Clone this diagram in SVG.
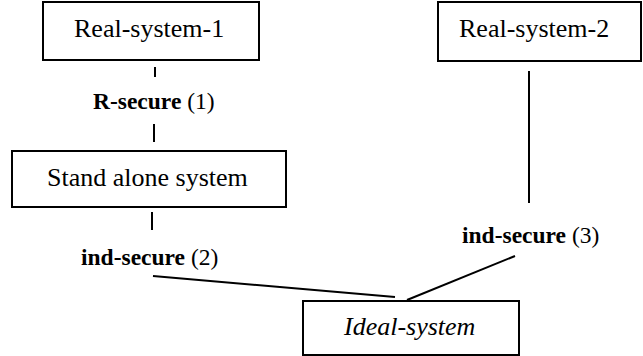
<svg xmlns="http://www.w3.org/2000/svg" width="643" height="356" viewBox="0 0 643 356">
<style>
.box{fill:#fff;stroke:#000;stroke-width:2}
.lbl{font-family:"Liberation Serif","Times New Roman",serif;font-size:26px;fill:#000}
.it{font-style:italic}
.edge{font-family:"Liberation Serif","Times New Roman",serif;font-size:23.5px;fill:#000}
.b{font-weight:bold}
.conn line{stroke:#000;stroke-width:2}
</style>
<rect width="643" height="356" fill="#fff"/>
<g id="connectors" class="conn">
<line x1="155" y1="67" x2="155" y2="77"/>
<line x1="154" y1="124" x2="154" y2="142"/>
<line x1="152" y1="212" x2="152" y2="230"/>
<line x1="153" y1="276" x2="395" y2="297"/>
<line x1="529" y1="71" x2="529" y2="203"/>
<line x1="515" y1="256" x2="407" y2="300"/>
</g>
<g id="real-system-1">
<rect class="box" x="43" y="2" width="216" height="58"/>
<text class="lbl" x="74" y="37">Real-system-1</text>
</g>
<g id="real-system-2">
<rect class="box" x="438" y="2" width="203" height="59"/>
<text class="lbl" x="459" y="37">Real-system-2</text>
</g>
<g id="stand-alone-system">
<rect class="box" x="12" y="151" width="274" height="56"/>
<text class="lbl" x="47" y="186">Stand alone system</text>
</g>
<g id="ideal-system">
<rect class="box" x="303" y="301" width="216" height="54"/>
<text class="lbl it" x="344" y="335">Ideal-system</text>
</g>
<g id="labels">
<text class="edge" x="93" y="109"><tspan class="b">R-secure</tspan> (1)</text>
<text class="edge" x="81" y="265"><tspan class="b">ind-secure</tspan> (2)</text>
<text class="edge" x="462" y="243"><tspan class="b">ind-secure</tspan> (3)</text>
</g>
</svg>
